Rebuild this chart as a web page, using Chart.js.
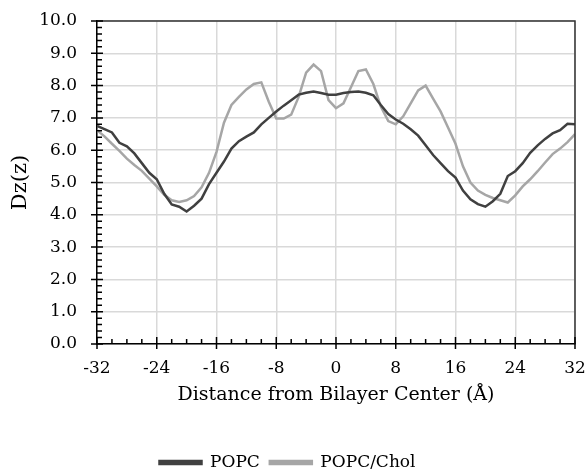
<!DOCTYPE html>
<html>
<head>
<meta charset="utf-8">
<script src="https://cdn.jsdelivr.net/npm/chart.js@4.4.1/dist/chart.umd.min.js"></script>
<style>
  html, body { margin: 0; padding: 0; background: #fff; }
  #wrap { width: 586px; height: 475px; }
</style>
</head>
<body>
<div id="wrap"><canvas id="dzChart" width="586" height="475"></canvas></div>
<script>
// distance from bilayer center (Å)
const distance = [-32, -31, -30, -29, -28, -27, -26, -25, -24, -23, -22, -21, -20, -19, -18, -17,
  -16, -15, -14, -13, -12, -11, -10, -9, -8, -7, -6, -5, -4, -3, -2, -1,
  0, 1, 2, 3, 4, 5, 6, 7, 8, 9, 10, 11, 12, 13, 14, 15,
  16, 17, 18, 19, 20, 21, 22, 23, 24, 25, 26, 27, 28, 29, 30, 31, 32];

const popc = [6.75, 6.65, 6.55, 6.23, 6.12, 5.9, 5.6, 5.3, 5.1, 4.65, 4.32, 4.25, 4.1, 4.28, 4.5, 4.95,
  5.3, 5.65, 6.05, 6.28, 6.42, 6.55, 6.8, 7.0, 7.2, 7.38, 7.55, 7.72, 7.78, 7.82, 7.77, 7.72,
  7.72, 7.77, 7.8, 7.82, 7.78, 7.7, 7.4, 7.12, 6.95, 6.82, 6.65, 6.45, 6.15, 5.85, 5.6, 5.35,
  5.15, 4.75, 4.48, 4.33, 4.25, 4.42, 4.65, 5.2, 5.35, 5.6, 5.92, 6.15, 6.35, 6.52, 6.62, 6.82, 6.8];

const popcChol = [6.62, 6.43, 6.2, 5.98, 5.74, 5.54, 5.36, 5.12, 4.88, 4.62, 4.45, 4.4, 4.45, 4.58, 4.85, 5.3,
  5.95, 6.85, 7.4, 7.65, 7.88, 8.05, 8.1, 7.5, 6.98, 6.98, 7.1, 7.65, 8.4, 8.65, 8.45, 7.55,
  7.3, 7.45, 7.95, 8.45, 8.5, 8.05, 7.35, 6.9, 6.8, 7.05, 7.45, 7.85, 8.0, 7.6, 7.2, 6.7,
  6.2, 5.5, 5.0, 4.75, 4.62, 4.52, 4.45, 4.38, 4.6, 4.88, 5.1, 5.35, 5.62, 5.88, 6.05, 6.25, 6.5];

const seriesNames = ['POPC', 'POPC/Chol'];
const seriesColors = ['#404040', '#a6a6a6'];

const serif = 'DejaVu Serif';

// top/right frame plus Excel-like major and minor tick marks
const axisTicks = {
  id: 'axisTicks',
  afterDraw(chart) {
    const {ctx, chartArea: a, scales: {x, y}} = chart;
    ctx.save();
    ctx.strokeStyle = '#333';
    ctx.lineWidth = 1.5;
    ctx.beginPath();
    ctx.moveTo(a.left, a.top);
    ctx.lineTo(a.right, a.top);
    ctx.lineTo(a.right, a.bottom);
    ctx.stroke();

    ctx.strokeStyle = '#000';
    ctx.lineWidth = 1.5;
    ctx.beginPath();
    for (let i = 0; i <= 32; i++) {
      const v = -32 + i * 2;
      const px = x.getPixelForValue(v);
      if (v % 8 === 0) {
        ctx.moveTo(px, a.bottom - 7);
        ctx.lineTo(px, a.bottom + 5);
      } else {
        ctx.moveTo(px, a.bottom - 5);
        ctx.lineTo(px, a.bottom);
      }
    }
    for (let i = 0; i <= 50; i++) {
      const py = y.getPixelForValue(i / 5);
      if (i % 5 === 0) {
        ctx.moveTo(a.left - 6, py);
        ctx.lineTo(a.left + 6, py);
      } else {
        ctx.moveTo(a.left, py);
        ctx.lineTo(a.left + 5, py);
      }
    }
    ctx.stroke();
    ctx.restore();
  }
};

const ctx = document.getElementById('dzChart').getContext('2d');
new Chart(ctx, {
  type: 'line',
  data: {
    labels: distance,
    datasets: [popc, popcChol].map((vals, k) => ({
      label: seriesNames[k],
      data: vals.map((v, i) => ({x: distance[i], y: v})),
      borderColor: seriesColors[k],
      backgroundColor: seriesColors[k],
      borderWidth: 2.5,
      pointRadius: 0,
      tension: 0,
      fill: false
    }))
  },
  options: {
    responsive: false,
    animation: false,
    devicePixelRatio: 1,
    layout: {
      padding: {left: 0, right: 11, top: 21, bottom: -6}
    },
    scales: {
      x: {
        type: 'linear',
        min: -32,
        max: 32,
        ticks: {
          stepSize: 8,
          color: '#000',
          padding: 14,
          font: {family: serif, size: 17}
        },
        grid: {color: '#d9d9d9', lineWidth: 1.5, drawTicks: false},
        border: {color: '#000', width: 1.5},
        title: {
          display: true,
          text: 'Distance from Bilayer Center (Å)',
          color: '#000',
          font: {family: serif, size: 19},
          padding: {top: 0, bottom: 38}
        },
        afterFit(scale) {
          scale.height = 100;
          scale.paddingLeft = 0;
          scale.paddingRight = 0;
        }
      },
      y: {
        min: 0,
        max: 10,
        ticks: {
          stepSize: 1,
          color: '#000',
          padding: 20,
          font: {family: serif, size: 17},
          callback: v => v.toFixed(1)
        },
        grid: {color: '#d9d9d9', lineWidth: 1.5, drawTicks: false},
        border: {color: '#000', width: 1.5},
        title: {
          display: true,
          text: 'Dz(z)',
          color: '#000',
          font: {family: serif, size: 21},
          padding: {top: 8, bottom: 0}
        },
        afterFit(scale) {
          scale.width = 97;
          scale.paddingTop = 0;
          scale.paddingBottom = 0;
        }
      }
    },
    plugins: {
      legend: {
        position: 'bottom',
        labels: {
          color: '#000',
          font: {family: serif, size: 17},
          boxWidth: 42,
          boxHeight: 3,
          padding: 10
        }
      },
      tooltip: {enabled: false}
    }
  },
  plugins: [axisTicks]
});
</script>
</body>
</html>
